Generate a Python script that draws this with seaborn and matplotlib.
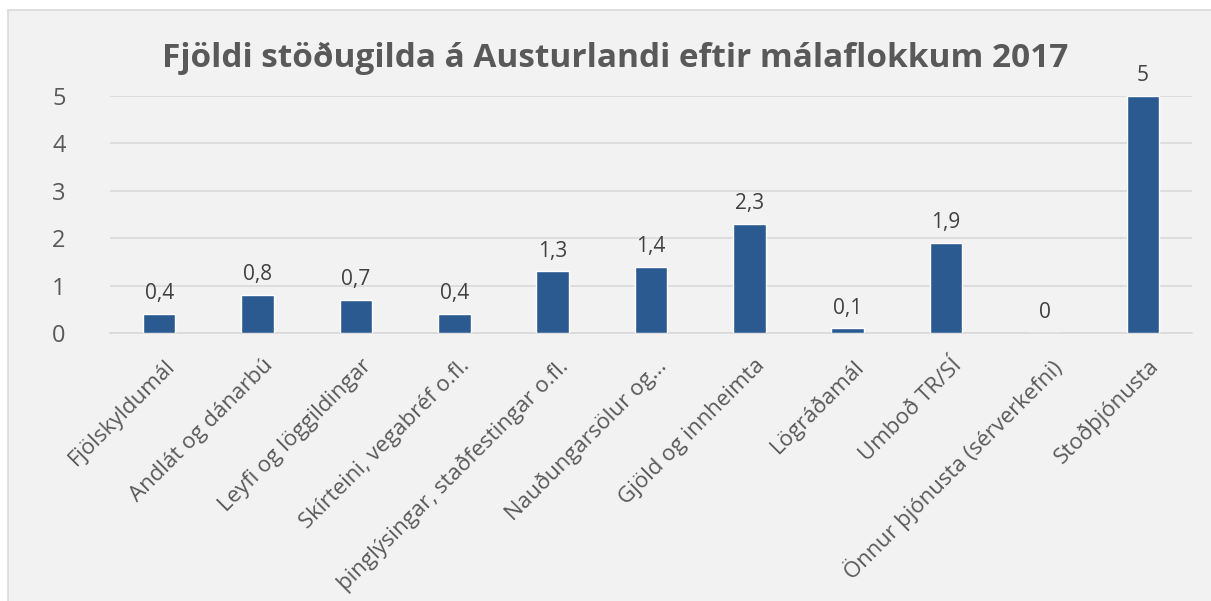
import matplotlib
matplotlib.use("Agg")
import matplotlib.pyplot as plt
import matplotlib.transforms as mtransforms
import seaborn as sns
import pandas as pd
from matplotlib.patches import Rectangle

# Chart data
categories = [
    "Fjölskyldumál",
    "Andlát og dánarbú",
    "Leyfi og löggildingar",
    "Skírteini, vegabréf o.fl.",
    "þinglýsingar, staðfestingar o.fl.",
    "Nauðungarsölur og...",
    "Gjöld og innheimta",
    "Lögráðamál",
    "Umboð TR/SÍ",
    "Önnur þjónusta (sérverkefni)",
    "Stoðþjónusta",
]
values = [0.4, 0.8, 0.7, 0.4, 1.3, 1.4, 2.3, 0.1, 1.9, 0, 5]
yticks = [0, 1, 2, 3, 4, 5]
title = "Fjöldi stöðugilda á Austurlandi eftir málaflokkum 2017"

df = pd.DataFrame({"flokkur": categories, "fjoldi": values})

sns.set_theme(style="white")
plt.rcParams["font.family"] = ["Open Sans", "DejaVu Sans"]

W, H = 1211, 601
fig = plt.figure(figsize=(W / 100, H / 100), dpi=100, facecolor="white")

# light grey chart panel with thin border (drawn behind the axes)
fig.patches.append(Rectangle((8 / W, -0.01), 1.0, 1 - 10 / H + 0.01,
                             transform=fig.transFigure, facecolor="#f2f2f2",
                             edgecolor="#d9d9d9", linewidth=1.2, zorder=-10))

ax = fig.add_axes([110 / W, 1 - 333 / H, (1192 - 110) / W, (333 - 96) / H])
ax.set_facecolor("none")

sns.barplot(data=df, x="flokkur", y="fjoldi", color="#2b5a91", width=0.33,
            saturation=1, ax=ax, zorder=3)

ax.set_ylim(0, 5)
ax.set_yticks(yticks)
ax.set_yticklabels([str(t) for t in yticks], fontsize=17, color="#595959")
ax.yaxis.grid(True, color="#d9d9d9", linewidth=1.2, zorder=0)
ax.set_axisbelow(True)
for s in ["top", "right", "left"]:
    ax.spines[s].set_visible(False)
ax.spines["bottom"].set_color("#d9d9d9")
ax.spines["bottom"].set_linewidth(1.2)
ax.tick_params(axis="y", length=0, pad=32)
ax.tick_params(axis="x", length=0, pad=16)

ax.set_xticks(range(len(categories)))
ax.set_xticklabels(categories, rotation=45, ha="right", va="top",
                   rotation_mode="anchor", fontsize=16, color="#595959")
shift = mtransforms.ScaledTranslation(5 / 100, 0, fig.dpi_scale_trans)
for lab in ax.get_xticklabels():
    lab.set_transform(lab.get_transform() + shift)
ax.set_xlabel("")
ax.set_ylabel("")

# value labels
for i, v in enumerate(values):
    lbl = f"{v:g}".replace(".", ",")
    ax.annotate(lbl, (i, v), xytext=(0, 7), textcoords="offset points",
                ha="center", va="bottom", fontsize=15, color="#404040")

fig.text(615 / W, 1 - 58 / H, title, ha="center", va="center",
         fontsize=24, fontweight="bold", color="#595959")

fig.savefig("out.png", dpi=100, facecolor="white")
